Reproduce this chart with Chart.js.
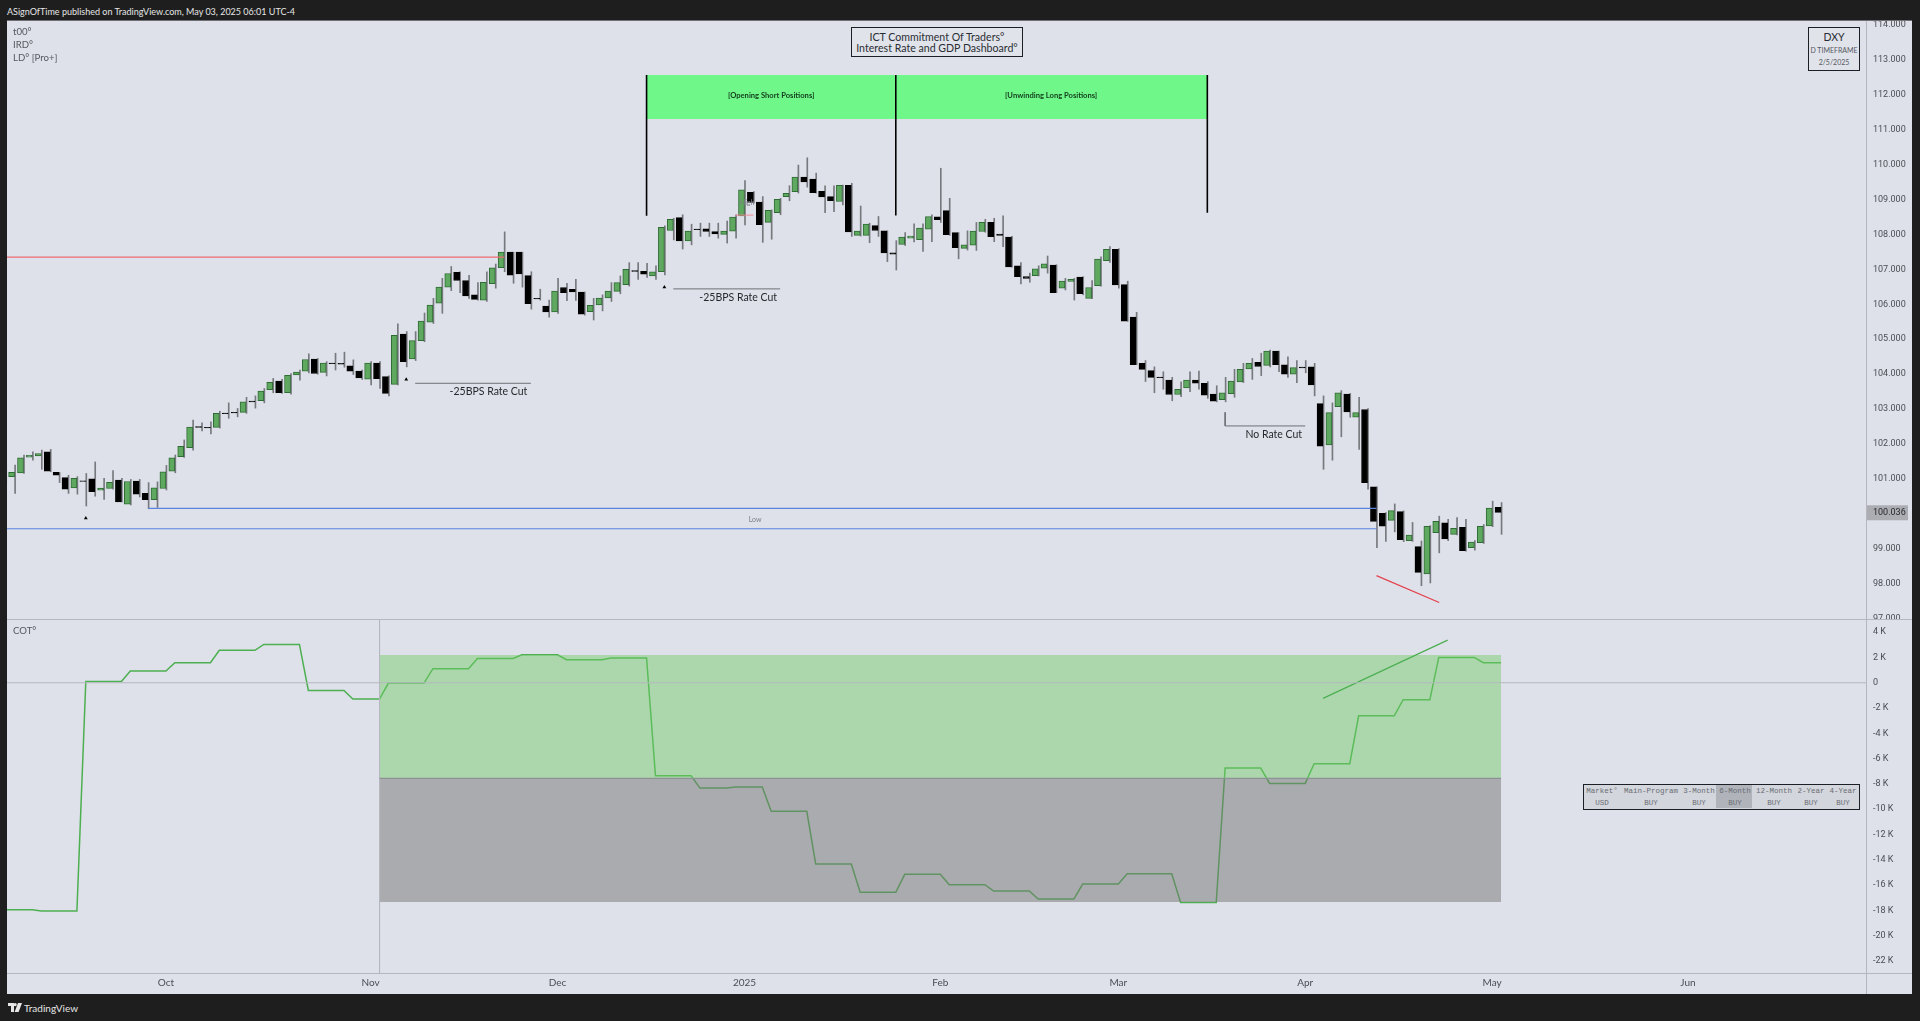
<!DOCTYPE html>
<html>
<head>
<meta charset="utf-8">
<title>DXY</title>
<script src="https://cdn.jsdelivr.net/npm/chart.js@4/dist/chart.umd.min.js"></script>
<style>
  html, body { margin: 0; padding: 0; background: #1e1e1e; width: 1920px; height: 1021px; overflow: hidden; }
  body { position: relative; font-family: Lato, sans-serif; }
  canvas { position: absolute; left: 7px; }
  #priceChart { top: 20px; }
  #cotChart { top: 620px; }
  #panel { position: absolute; left: 7px; top: 20px; width: 1905px; height: 974px; background: #dee1e9; }
  .line { position: absolute; background: #b4b7be; }
  .txt { position: absolute; white-space: nowrap; }
  .box { position: absolute; border: 1.5px solid #1c1f26; box-sizing: border-box; text-align: center; color: #2a2d33; background: #e0e3ea; white-space: nowrap; }
  #dash { position: absolute; left: 1583px; top: 784px; width: 277px; height: 26px; box-sizing: border-box; border: 1.5px solid #1c1f26;
          background: #d3d6dc; font-family: "Liberation Mono", monospace; font-size: 7.5px; color: #6a6d74; }
  #dash span { position: absolute; transform: translateX(-50%); white-space: nowrap; }
  #dashHi { position: absolute; left: 132px; top: 0; width: 36px; height: 23px; background: #b0b3ba; }
</style>
</head>
<body>
<div id="panel"></div>
<canvas id="priceChart" width="1905" height="600"></canvas>
<canvas id="cotChart" width="1905" height="374"></canvas>

<div class="txt" style="left:7px;top:4px;color:#e6e6e6;font-size:9px;line-height:15px">ASignOfTime published on TradingView.com, May 03, 2025 06:01 UTC-4</div>
<div class="txt" style="left:13px;top:25px;color:#55585f;font-size:9.6px;line-height:13px">t00°<br>IRD°<br>LD° [Pro+]</div>
<div class="txt" style="left:13px;top:624px;color:#55585f;font-size:9.6px;line-height:13px">COT°</div>

<div class="box" style="left:851px;top:27px;width:172px;height:30px;font-size:10.6px;line-height:10.6px;padding-top:4px">ICT Commitment Of Traders°<br>Interest Rate and GDP Dashboard°</div>
<div class="box" style="left:1808px;top:27px;width:52px;height:44px">
  <div style="font-size:10.5px;line-height:13px;margin-top:3px">DXY</div>
  <div style="font-size:7px;line-height:12px;color:#55585f">D TIMEFRAME</div>
  <div style="font-size:7px;line-height:12px;color:#55585f">2/5/2025</div>
</div>
<div id="dash"><div id="dashHi"></div></div>

<div class="line" style="left:7px;top:619px;width:1905px;height:1px"></div>
<div class="line" style="left:7px;top:973px;width:1905px;height:1px"></div>
<div class="line" style="left:1866px;top:20px;width:1px;height:974px"></div>
<div class="line" style="left:7px;top:20px;width:1905px;height:1px;background:#6e7076"></div>

<svg style="position:absolute;left:8px;top:1003px" width="14" height="9" viewBox="0 0 14 9"><path fill="#e6e6e6" d="M0 0h6v9H3V3H0zM7.2 0a1.6 1.6 0 1 1 0 3.2a1.6 1.6 0 0 1 0-3.2zM10 0h4l-3.4 9H6.6z"/></svg>
<div class="txt" style="left:24px;top:1001px;color:#e6e6e6;font-size:10px;line-height:15px">TradingView</div>

<script>
// ---- price pane, one entry per daily bar
const opens = [
  101.28,101.07,101.18,101.63,101.66,101.78,101.19,101.04,100.75,100.95,
  101.01,100.68,100.73,100.97,100.28,100.94,100.59,100.41,100.73,101.23,
  101.64,101.90,102.50,102.48,102.48,102.89,102.91,102.91,103.23,103.24,
  103.56,103.80,103.47,103.98,104.09,104.43,104.05,104.32,104.31,104.24,
  104.09,103.86,104.32,103.93,103.71,105.15,104.44,104.96,105.49,106.03,
  106.49,106.91,106.68,106.27,106.12,106.59,107.05,107.49,107.49,106.82,
  106.17,105.95,105.78,106.48,106.43,106.35,105.79,105.98,106.18,106.37,
  106.56,106.96,106.94,106.81,106.93,108.11,108.48,107.81,108.15,108.16,
  108.08,108.00,108.09,108.53,109.20,108.92,108.34,108.62,109.08,109.22,
  109.64,109.58,109.23,109.08,108.94,109.40,107.97,107.97,108.25,108.10,
  107.47,107.71,107.89,107.85,108.15,108.50,108.68,108.05,107.60,107.69,
  108.08,108.34,108.01,107.92,107.10,106.79,106.82,107.03,107.12,106.46,
  106.65,106.78,106.17,106.53,107.25,107.57,106.56,105.63,104.31,104.10,
  103.92,103.83,103.42,103.61,103.83,103.74,103.43,103.27,103.44,103.78,
  104.15,104.34,104.25,104.66,104.27,104.00,104.20,104.21,103.16,101.98,
  103.07,103.43,102.77,102.99,100.78,100.02,99.82,100.07,99.24,99.07,
  98.29,99.47,99.75,99.42,99.62,99.04,99.18,99.66,100.19
];
const highs = [
  101.40,101.40,101.69,101.78,101.83,101.85,101.19,101.11,101.07,101.16,
  101.49,101.02,101.24,101.02,100.99,100.99,100.90,100.92,101.39,101.69,
  102.12,102.69,102.61,102.64,102.94,103.18,103.02,103.34,103.38,103.59,
  103.88,103.85,104.02,104.12,104.58,104.45,104.36,104.60,104.63,104.41,
  104.12,104.36,104.36,103.95,105.44,105.22,105.22,105.75,106.17,106.74,
  107.08,106.93,106.83,106.62,106.93,107.15,108.07,107.49,107.49,106.93,
  106.43,106.12,106.74,106.60,106.71,106.35,106.17,106.27,106.62,106.81,
  107.19,107.19,107.17,107.10,108.24,108.46,108.56,108.29,108.32,108.32,
  108.32,108.38,108.56,109.54,109.22,109.08,108.70,109.03,109.39,109.98,
  110.19,109.75,109.39,109.39,109.41,109.46,108.81,108.32,108.51,108.10,
  107.82,108.05,108.30,108.30,108.56,109.89,109.03,108.05,108.10,108.34,
  108.43,108.46,108.53,107.94,107.19,106.89,107.10,107.38,107.13,106.74,
  106.74,106.79,106.68,107.36,107.65,107.59,106.66,105.77,104.39,104.21,
  104.07,103.91,103.78,104.07,104.09,103.79,103.67,103.91,104.14,104.31,
  104.45,104.60,104.69,104.66,104.50,104.39,104.39,104.31,103.38,103.18,
  103.53,103.45,103.34,103.02,100.78,100.04,100.29,100.09,99.76,99.23,
  99.67,99.94,99.85,99.90,99.85,99.24,99.70,100.37,100.33
];
const lows = [
  100.90,100.59,101.16,101.54,101.28,101.21,100.90,100.59,100.57,100.23,
  100.51,100.42,100.71,100.35,100.26,100.49,100.15,100.19,100.69,101.18,
  101.62,101.83,102.38,102.29,102.46,102.74,102.78,102.88,103.03,103.18,
  103.47,103.45,103.43,103.83,104.04,104.00,103.95,104.12,104.20,103.99,
  103.85,103.69,103.59,103.38,103.69,104.21,104.39,104.93,105.45,105.74,
  106.39,106.33,106.17,106.12,106.08,106.46,106.93,106.60,106.49,105.86,
  106.12,105.63,105.74,106.10,106.11,105.69,105.55,105.81,106.08,106.30,
  106.52,106.71,106.77,106.71,106.84,107.84,107.58,107.70,107.94,107.94,
  107.89,107.75,107.89,108.27,108.89,107.77,107.86,108.56,108.96,109.18,
  109.35,109.18,108.62,108.65,108.84,107.94,107.95,107.76,107.94,107.22,
  106.98,107.68,107.78,107.51,107.79,108.34,107.97,107.30,107.55,107.54,
  108.06,107.79,107.65,107.06,106.58,106.63,106.81,106.89,106.33,106.41,
  106.12,106.27,106.16,106.52,107.20,106.46,105.51,104.27,103.79,103.47,
  103.57,103.24,103.36,103.50,103.57,103.31,103.21,103.21,103.34,103.76,
  103.85,103.96,104.21,104.07,103.91,103.76,104.04,103.38,101.28,101.54,
  102.21,102.77,101.85,100.71,99.04,99.22,99.49,99.21,99.22,97.95,
  98.03,98.89,99.24,99.40,98.94,98.97,99.16,99.64,99.42
];
const closes = [
  101.05,101.19,101.61,101.68,101.73,101.23,101.11,100.71,101.02,100.93,
  100.64,100.74,100.91,100.35,100.93,100.57,100.41,100.75,101.21,101.61,
  101.94,102.49,102.48,102.46,102.88,102.87,102.89,103.21,103.21,103.52,
  103.77,103.47,103.97,104.06,104.42,104.02,104.32,104.30,104.29,104.09,
  103.89,104.32,103.87,103.45,105.11,104.36,104.96,105.52,105.98,106.49,
  106.88,106.68,106.24,106.14,106.63,107.04,107.49,106.83,106.87,106.02,
  106.15,105.78,106.38,106.33,106.35,105.72,105.97,106.18,106.38,106.62,
  107.00,106.94,106.86,106.93,108.20,108.43,107.81,108.09,108.13,108.08,
  108.01,108.09,108.49,109.27,108.91,108.28,108.69,109.00,109.17,109.64,
  109.50,109.19,109.07,108.96,109.40,108.07,108.09,108.29,108.11,107.47,
  107.43,107.92,107.95,108.18,108.51,108.42,107.99,107.62,107.70,108.09,
  108.34,107.93,107.97,107.07,106.79,106.74,107.01,107.16,106.33,106.66,
  106.71,106.30,106.48,107.29,107.57,106.55,105.52,104.27,104.14,103.91,
  103.90,103.42,103.57,103.83,103.74,103.40,103.23,103.47,103.80,104.14,
  104.31,104.22,104.66,104.27,104.00,104.19,104.18,103.69,101.94,102.90,
  103.47,102.92,102.90,100.90,99.79,99.65,100.10,99.27,99.40,98.33,
  99.65,99.79,99.29,99.59,98.95,99.20,99.65,100.17,100.05
];
const priceTicks = [114,113,112,111,110,109,108,107,106,105,104,103,102,101,100,99,98,97];
const lastPrice = 100.036;

// ---- COT pane, thousands of contracts, one entry per daily bar
const cotValues = [
  -17.94,-17.94,-17.94,-17.94,-18.05,-18.05,-18.05,-18.05,-18.05,0.10,
  0.10,0.10,0.10,0.10,0.92,0.92,0.92,0.92,0.92,1.58,
  1.58,1.58,1.58,1.58,2.56,2.56,2.56,2.56,2.56,3.03,
  3.03,3.03,3.03,3.03,-0.61,-0.61,-0.61,-0.61,-0.61,-1.29,
  -1.29,-1.29,-1.29,-0.03,-0.03,-0.03,-0.03,-0.03,1.11,1.11,
  1.11,1.11,1.11,1.92,1.92,1.92,1.92,1.92,2.21,2.21,
  2.21,2.21,2.21,1.82,1.82,1.82,1.82,1.82,1.95,1.95,
  1.95,1.95,1.95,-7.35,-7.35,-7.35,-7.35,-7.35,-8.33,-8.33,
  -8.33,-8.33,-8.25,-8.25,-8.25,-8.25,-10.17,-10.17,-10.17,-10.17,
  -10.17,-14.33,-14.33,-14.33,-14.33,-14.33,-16.57,-16.57,-16.57,-16.57,
  -16.57,-15.15,-15.15,-15.15,-15.15,-15.15,-15.97,-15.97,-15.97,-15.97,
  -15.97,-16.47,-16.47,-16.47,-16.47,-16.47,-17.10,-17.10,-17.10,-17.10,
  -17.10,-15.92,-15.92,-15.92,-15.92,-15.92,-15.10,-15.10,-15.10,-15.10,
  -15.10,-15.10,-17.37,-17.37,-17.37,-17.37,-17.37,-6.75,-6.75,-6.75,
  -6.75,-6.75,-7.96,-7.96,-7.96,-7.96,-7.96,-6.40,-6.40,-6.40,
  -6.40,-6.40,-2.61,-2.61,-2.61,-2.61,-2.61,-1.34,-1.34,-1.34,
  -1.34,2.00,2.00,2.00,2.00,2.00,1.58,1.58,1.58
];
const cotTicks = [4,2,0,-2,-4,-6,-8,-10,-12,-14,-16,-18,-20,-22];
const cotZones = [2.19, -7.56, -17.34]; // green top, green/grey edge, grey bottom

// ---- time axis
const monthLabels = ["Oct","Nov","Dec","2025","Feb","Mar","Apr","May","Jun"];
const monthBars = [18,41,62,83,105,125,146,167,189];

// ---- dashboard tables
const dashHeads = ["Market°","Main-Program","3-Month","6-Month","12-Month","2-Year","4-Year"];
const dashCells = ["USD","BUY","BUY","BUY","BUY","BUY","BUY"];
const dashCentres = [18,67,115,151,190,227,259];

// ---- markup on the price pane, in bars and price
const xMin = 0.146, xMax = 209;
const firstBar = 42, lastBar = 168;
const priceNotes = [
  { text: "-25BPS Rate Cut", bar: 58.6, price: 103.49, align: "right", font: "10.5px Lato", color: "#26282d" },
  { text: "-25BPS Rate Cut", bar: 86.66, price: 106.18, align: "right", font: "10.5px Lato", color: "#26282d" },
  { text: "No Rate Cut", bar: 145.65, price: 102.27, align: "right", font: "10.5px Lato", color: "#26282d" },
  { text: "Low", bar: 84.2, price: 99.83, align: "center", font: "7px Lato", color: "#7d8087" },
  { text: "High", bar: 83.3, price: 108.9, align: "center", font: "7px Lato", color: "#7d8087" },
  { text: "[Opening Short Positions]", bar: 86, price: 111.96, align: "center", font: "bold 7.6px Lato", color: "#14401f" },
  { text: "[Unwinding Long Positions]", bar: 117.45, price: 111.96, align: "center", font: "bold 7.6px Lato", color: "#14401f" }
];

function segment(points, color, width) {
  return {
    type: "line",
    data: points.map(p => ({ x: p[0], y: p[1] })),
    borderColor: color,
    borderWidth: width,
    pointRadius: 0,
    tension: 0,
    order: 1
  };
}

function band(from, to, top, bottom, color, order) {
  return {
    type: "line",
    data: [{ x: from, y: top }, { x: to, y: top }],
    borderWidth: 0,
    borderColor: "transparent",
    backgroundColor: color,
    fill: { value: bottom },
    pointRadius: 0,
    order: order
  };
}

const bars = opens.map((o, i) => i);
const isUp = bars.map(i => closes[i] >= opens[i]);

const wickDataset = {
  type: "bar",
  data: bars.map(i => ({ x: i, y: [lows[i], highs[i]] })),
  backgroundColor: "#77797e",
  barThickness: 1,
  order: 4
};
const bodyDataset = {
  type: "bar",
  data: bars.map(i => ({ x: i, y: [opens[i], closes[i]] })),
  backgroundColor: isUp.map(u => u ? "#5fa85f" : "#000000"),
  borderColor: isUp.map(u => u ? "#2f6b35" : "#000000"),
  borderWidth: 1,
  borderSkipped: false,
  barThickness: 6,
  order: 3
};

const noteLabels = {
  id: "noteLabels",
  afterDatasetsDraw(chart) {
    const { ctx, scales } = chart;
    ctx.save();
    ctx.textBaseline = "middle";
    priceNotes.forEach(n => {
      ctx.font = n.font;
      ctx.fillStyle = n.color;
      ctx.textAlign = n.align;
      ctx.fillText(n.text, scales.x.getPixelForValue(n.bar), scales.y.getPixelForValue(n.price));
    });
    ctx.restore();
  }
};

const lastPriceTag = {
  id: "lastPriceTag",
  afterDraw(chart) {
    const { ctx, scales, chartArea } = chart;
    const y = scales.y.getPixelForValue(lastPrice);
    ctx.save();
    ctx.fillStyle = "#abadb3";
    ctx.fillRect(chartArea.right + 1, y - 7.5, 41, 15);
    ctx.fillStyle = "#26282d";
    ctx.font = "9px Roboto";
    ctx.textAlign = "left";
    ctx.textBaseline = "middle";
    ctx.fillText(lastPrice.toFixed(3), chartArea.right + 7, y);
    ctx.restore();
  }
};

const sharedOptions = {
  animation: false,
  responsive: false,
  maintainAspectRatio: false,
  devicePixelRatio: 1,
  events: [],
  layout: { padding: 0, autoPadding: false }, // the triangles would otherwise shrink the pane
  plugins: { legend: { display: false }, tooltip: { enabled: false } }
};

function valueAxis(min, max, tickValues, format) {
  return {
    position: "right",
    min: min,
    max: max,
    grid: { display: false, drawTicks: false },
    border: { display: false },
    afterFit(scale) {
      scale.width = 46;
      scale.paddingTop = 0;
      scale.paddingBottom = 0;
    },
    afterBuildTicks(scale) { scale.ticks = tickValues.map(v => ({ value: v })); },
    ticks: {
      autoSkip: false,
      padding: 7,
      crossAlign: "near",
      color: "#4a4d54",
      font: { family: "Roboto", size: 9 },
      callback: format
    }
  };
}

new Chart(document.getElementById("priceChart"), {
  type: "bar",
  data: {
    datasets: [
      wickDataset,
      bodyDataset,
      segment([[0, 107.35], [56, 107.35]], "#ef6a75", 1.2),
      segment([[16, 100.16], [154, 100.16]], "#5a84e0", 1.2),
      segment([[0, 99.58], [154, 99.58]], "#5a84e0", 1.2),
      segment([[82, 108.55], [84, 108.55]], "#ef8a95", 1),
      segment([[46, 103.74], [59, 103.74]], "#6e7076", 1),
      segment([[75, 106.44], [87, 106.44]], "#6e7076", 1),
      segment([[137, 102.91], [137, 102.52], [146, 102.52]], "#6e7076", 1),
      segment([[154, 98.24], [161.05, 97.47]], "#e5404c", 1.2),
      segment([[72, 112.56], [72, 108.53]], "#000000", 1.6),
      segment([[100, 112.56], [100, 108.54]], "#000000", 1.6),
      segment([[135, 112.56], [135, 108.62]], "#000000", 1.6),
      band(72, 100, 112.56, 111.30, "#70f78a", 5),
      band(100, 135, 112.56, 111.30, "#70f78a", 5),
      {
        type: "line",
        data: [{ x: 9, y: 99.88 }, { x: 45, y: 103.85 }, { x: 74, y: 106.49 }],
        showLine: false,
        pointStyle: "triangle",
        pointRadius: 2.2,
        backgroundColor: "#000000",
        borderColor: "#000000",
        borderWidth: 0,
        order: 1
      }
    ]
  },
  options: {
    ...sharedOptions,
    scales: {
      x: { type: "linear", min: xMin, max: xMax, offset: false, display: false },
      y: valueAxis(96.97, 114.13, priceTicks, v => v.toFixed(3))
    }
  },
  plugins: [noteLabels, lastPriceTag]
});

new Chart(document.getElementById("cotChart"), {
  type: "line",
  data: {
    datasets: [
      segment([[xMin, 0], [xMax, 0]], "#b4b7be", 1.2),
      {
        data: cotValues.map((v, i) => ({ x: i, y: v })),
        borderColor: "#4caf50",
        borderWidth: 1.5,
        pointRadius: 0,
        tension: 0,
        order: 5
      },
      band(firstBar, lastBar, cotZones[0], cotZones[1], "rgba(110,205,100,0.45)", 2),
      band(firstBar, lastBar, cotZones[1], cotZones[2], "rgba(117,117,115,0.5)", 2),
      segment([[firstBar, cotZones[1]], [lastBar, cotZones[1]]], "#8e9196", 1.2),
      segment([[148, -1.24], [162, 3.37]], "#4caf50", 1.2),
      segment([[firstBar, 4.96], [firstBar, -22.95]], "#b4b7be", 1)
    ]
  },
  options: {
    ...sharedOptions,
    scales: {
      x: {
        type: "linear",
        min: xMin,
        max: xMax,
        grid: { display: false, drawTicks: false },
        border: { display: false },
        afterFit(scale) {
          scale.height = 21;
          scale.paddingLeft = 0;
          scale.paddingRight = 0;
        },
        afterBuildTicks(scale) { scale.ticks = monthBars.map(v => ({ value: v })); },
        ticks: {
          autoSkip: false,
          maxRotation: 0,
          padding: 4,
          color: "#4a4d54",
          font: { family: "Lato", size: 10 },
          callback: v => monthLabels[monthBars.indexOf(v)]
        }
      },
      y: valueAxis(-22.95, 4.96, cotTicks, v => v === 0 ? "0" : v + " K")
    }
  }
});

// dashboard table under the price axis
const dash = document.getElementById("dash");
dashHeads.forEach((head, i) => {
  const top = document.createElement("span");
  top.textContent = head;
  top.style.left = dashCentres[i] + "px";
  top.style.top = "2px";
  dash.appendChild(top);
  const cell = document.createElement("span");
  cell.textContent = dashCells[i];
  cell.style.left = dashCentres[i] + "px";
  cell.style.top = "14px";
  dash.appendChild(cell);
});
</script>
</body>
</html>
